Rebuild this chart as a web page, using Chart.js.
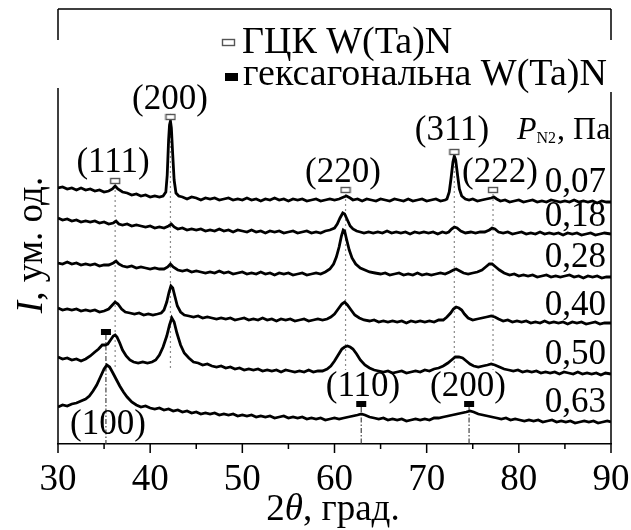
<!DOCTYPE html>
<html>
<head>
<meta charset="utf-8">
<script src="https://cdn.jsdelivr.net/npm/chart.js@4.4.1/dist/chart.umd.min.js"></script>
<style>
  html, body { margin: 0; padding: 0; background: #fff; }
</style>
</head>
<body>
<canvas id="xrd" width="631" height="530"></canvas>
<script>
const FONT = '"Liberation Serif", "Times New Roman", serif';

// nitrogen pressure for each pattern, top to bottom
const pressures = ['0,07', '0,18', '0,28', '0,40', '0,50', '0,63'];

// [2theta, intensity (arb. units, stacked)]
const s007 = [[30,256],[30.5,257],[31,255],[31.5,256],[32,254],[32.5,256],[33,254],[33.5,255],[34,253],[34.5,254],[35,252],[35.5,253],[35.9,255],[36.2,258],[36.5,255],[37,252],[37.5,251],[38,249],[38.5,250],[39,248],[39.5,249],[40,247],[40.5,248],[41,247],[41.4,248],[41.7,252],[41.85,269],[42.0,304],[42.1,319],[42.2,323],[42.3,316],[42.45,289],[42.6,264],[42.8,251],[43.1,248],[43.5,247],[44,245],[44.5,247],[45,246],[45.5,244],[46,246],[46.5,245],[47,246],[47.5,244],[48,245],[48.5,246],[49,244],[49.5,245],[50,244],[50.5,246],[51,244],[51.5,245],[52,243],[52.5,245],[53,244],[53.5,246],[54,244],[54.5,245],[55,243],[55.5,245],[56,244],[56.5,245],[57,243],[57.5,244],[58,245],[58.5,243],[59,244],[59.5,245],[60,244],[60.5,245],[61,247],[61.3,248],[61.7,246],[62,244],[62.5,245],[63,243],[63.5,245],[64,244],[64.5,243],[65,245],[65.5,244],[66,243],[66.5,245],[67,244],[67.5,243],[68,245],[68.5,243],[69,244],[69.5,245],[70,243],[70.5,244],[71,245],[71.5,243],[72,244],[72.2,245],[72.45,252],[72.65,266],[72.85,282],[73.0,288],[73.15,284],[73.35,269],[73.55,255],[73.8,248],[74.2,245],[74.6,244],[75,245],[75.5,243],[76,244],[76.5,245],[77,246],[77.3,247],[77.6,245],[78,243],[78.5,244],[79,242],[79.5,243],[80,244],[80.5,242],[81,243],[81.5,244],[82,242],[82.5,243],[83,242],[83.5,244],[84,243],[84.5,242],[85,243],[85.5,242],[86,244],[86.5,242],[87,243],[87.5,242],[88,243],[88.5,241],[89,243],[89.5,242],[90,242]];

const s018 = [[30,226],[30.5,224],[31,225],[31.5,223],[32,224],[32.5,222],[33,223],[33.5,222],[34,223],[34.5,221],[35,222],[35.5,220],[36,221],[36.3,223],[36.6,220],[37,219],[37.5,220],[38,218],[38.5,219],[39,218],[39.5,217],[40,218],[40.5,216],[41,217],[41.5,216],[42,218],[42.3,220],[42.6,217],[43,215],[43.5,216],[44,214],[44.5,215],[45,214],[45.5,215],[46,213],[46.5,214],[47,213],[47.5,215],[48,213],[48.5,214],[49,212],[49.5,214],[50,213],[50.5,212],[51,214],[51.5,212],[52,213],[52.5,211],[53,213],[53.5,212],[54,213],[54.5,211],[55,212],[55.5,213],[56,211],[56.5,212],[57,213],[57.5,211],[58,212],[58.5,211],[59,213],[59.5,214],[60,216],[60.3,220],[60.6,226],[60.9,231],[61.1,230],[61.4,224],[61.7,218],[62.0,215],[62.4,213],[62.8,212],[63.2,211],[63.7,212],[64.2,211],[64.7,212],[65.2,211],[65.7,213],[66.2,211],[66.7,212],[67.2,211],[67.7,212],[68.2,210],[68.7,212],[69.2,211],[69.7,212],[70.2,211],[70.7,212],[71.2,210],[71.7,212],[72.1,211],[72.4,212],[72.7,215],[73.0,217],[73.3,216],[73.7,213],[74.2,211],[74.8,212],[75.3,211],[75.8,212],[76.3,212],[76.8,214],[77.1,216],[77.4,215],[77.8,212],[78.3,211],[78.8,212],[79.3,210],[79.8,211],[80.3,212],[80.8,210],[81.3,211],[81.8,210],[82.3,212],[82.8,210],[83.3,211],[83.8,210],[84.3,211],[84.8,209],[85.3,211],[85.8,210],[86.3,211],[86.8,209],[87.3,210],[87.8,211],[88.3,209],[88.8,210],[89.3,211],[90,210]];

const s028 = [[30,181],[30.5,180],[31,182],[31.5,180],[32,181],[32.5,179],[33,180],[33.5,179],[34,180],[34.5,178],[35,179],[35.5,179],[36,181],[36.3,183],[36.6,180],[37,178],[37.5,177],[38,178],[38.5,176],[39,177],[39.5,176],[40,175],[40.5,176],[41,175],[41.5,175],[41.9,177],[42.2,180],[42.5,177],[43,174],[43.5,173],[44,174],[44.5,172],[45,173],[45.5,172],[46,171],[46.5,172],[47,171],[47.5,173],[48,171],[48.5,172],[49,170],[49.5,171],[50,172],[50.5,170],[51,171],[51.5,170],[52,172],[52.5,170],[53,171],[53.5,169],[54,171],[54.5,170],[55,171],[55.5,169],[56,170],[56.5,171],[57,169],[57.5,170],[58,171],[58.5,170],[59,172],[59.5,175],[59.9,180],[60.2,187],[60.5,197],[60.75,208],[60.95,214],[61.1,213],[61.3,205],[61.6,194],[61.9,186],[62.3,180],[62.8,176],[63.3,174],[63.8,172],[64.4,171],[65,170],[65.5,171],[66,169],[66.5,170],[67,171],[67.5,169],[68,170],[68.5,169],[69,171],[69.5,169],[70,170],[70.5,169],[71,170],[71.5,171],[72,170],[72.5,172],[72.9,174],[73.2,175],[73.6,173],[74,171],[74.5,170],[75,171],[75.5,172],[76,174],[76.4,177],[76.8,180],[77.1,180],[77.5,177],[77.9,174],[78.4,171],[79,169],[79.5,170],[80,168],[80.5,169],[81,168],[81.5,169],[82,167],[82.5,168],[83,169],[83.5,167],[84,168],[84.5,167],[85,168],[85.5,169],[86,167],[86.5,168],[87,166],[87.5,168],[88,167],[88.5,168],[89,166],[89.5,167],[90,167]];

const s040 = [[30,136],[30.5,134],[31,135],[31.5,134],[32,135],[32.5,133],[33,134],[33.5,133],[34,134],[34.5,132],[35,133],[35.5,135],[35.9,139],[36.2,142],[36.5,140],[36.9,135],[37.3,132],[37.8,131],[38.3,130],[38.8,131],[39.3,129],[39.8,130],[40.3,129],[40.8,130],[41.2,131],[41.5,134],[41.8,142],[42.05,152],[42.25,158],[42.45,156],[42.7,147],[42.95,138],[43.3,132],[43.7,129],[44.2,128],[44.7,127],[45.2,128],[45.7,126],[46.2,127],[46.7,126],[47.2,125],[47.7,126],[48.2,125],[48.7,126],[49.2,124],[49.7,125],[50.2,126],[50.7,124],[51.2,125],[51.7,124],[52.2,126],[52.7,124],[53.2,125],[53.7,123],[54.2,125],[54.7,124],[55.2,125],[55.7,123],[56.2,124],[56.7,125],[57.2,123],[57.7,124],[58.2,125],[58.7,124],[59.2,125],[59.6,127],[60.0,130],[60.4,135],[60.8,140],[61.1,142],[61.4,139],[61.8,134],[62.2,129],[62.7,126],[63.2,124],[63.8,123],[64.3,124],[64.8,122],[65.3,123],[65.8,122],[66.3,123],[66.8,122],[67.3,123],[67.8,121],[68.3,123],[68.8,122],[69.3,123],[69.8,122],[70.3,123],[70.8,122],[71.3,124],[71.8,124],[72.2,127],[72.6,131],[72.9,135],[73.2,137],[73.5,136],[73.8,134],[74.1,130],[74.5,126],[75,124],[75.5,125],[76,126],[76.5,127],[77,128],[77.4,127],[77.8,125],[78.3,123],[78.8,124],[79.3,122],[79.8,123],[80.3,122],[80.8,123],[81.3,121],[81.8,122],[82.3,121],[82.8,123],[83.3,121],[83.8,122],[84.3,121],[84.8,122],[85.3,120],[85.8,122],[86.3,121],[86.8,122],[87.3,120],[87.8,121],[88.3,122],[88.8,120],[89.3,121],[90,121]];

const s050 = [[30,87],[30.5,85],[31,86],[31.5,84],[32,85],[32.5,83],[33,85],[33.5,88],[34,92],[34.4,95],[34.8,99],[35.1,99],[35.4,100],[35.7,104],[36.0,108],[36.2,109],[36.4,107],[36.7,101],[37.0,94],[37.4,88],[37.8,84],[38.2,82],[38.7,81],[39.2,82],[39.7,81],[40.2,82],[40.6,84],[41.0,89],[41.4,97],[41.8,108],[42.1,119],[42.35,126],[42.6,122],[42.9,111],[43.3,99],[43.7,91],[44.2,86],[44.7,82],[45.2,81],[45.7,79],[46.2,80],[46.7,78],[47.2,77],[47.7,78],[48.2,76],[48.7,77],[49.2,75],[49.7,76],[50.2,74],[50.7,75],[51.2,74],[51.7,75],[52.2,73],[52.7,74],[53.2,73],[53.7,74],[54.2,72],[54.7,74],[55.2,73],[55.7,72],[56.2,73],[56.7,72],[57.2,74],[57.7,72],[58.2,73],[58.7,73],[59.2,75],[59.6,78],[60.0,83],[60.4,89],[60.8,95],[61.1,97],[61.4,98],[61.7,97],[62.0,95],[62.4,90],[62.8,84],[63.3,79],[63.8,76],[64.3,74],[64.8,73],[65.3,72],[65.8,73],[66.3,71],[66.8,72],[67.3,73],[67.8,71],[68.3,72],[68.8,73],[69.3,72],[69.8,74],[70.3,73],[70.8,75],[71.3,76],[71.8,78],[72.3,81],[72.7,84],[73.1,87],[73.5,87],[73.9,86],[74.3,83],[74.7,80],[75.1,78],[75.6,77],[76.1,78],[76.6,79],[77.0,80],[77.4,79],[77.9,77],[78.4,75],[78.9,74],[79.4,73],[79.9,74],[80.4,72],[80.9,73],[81.4,72],[81.9,73],[82.4,71],[82.9,72],[83.4,71],[83.9,72],[84.4,70],[84.9,72],[85.4,71],[85.9,70],[86.4,72],[86.9,70],[87.4,71],[87.9,70],[88.4,71],[88.9,69],[89.4,71],[90,70]];

const s063 = [[30,37],[30.5,39],[31,38],[31.5,40],[32,41],[32.5,43],[33,45],[33.4,48],[33.8,53],[34.2,59],[34.6,67],[35.0,75],[35.3,79],[35.6,77],[35.9,72],[36.3,65],[36.7,58],[37.1,52],[37.5,47],[38.0,42],[38.5,39],[39.0,37],[39.5,38],[40,36],[40.5,35],[41,36],[41.5,34],[42,35],[42.5,33],[43,34],[43.5,32],[44,33],[44.5,31],[45,32],[45.5,30],[46,31],[46.5,30],[47,31],[47.5,29],[48,30],[48.5,29],[49,30],[49.5,28],[50,29],[50.5,28],[51,29],[51.5,27],[52,28],[52.5,27],[53,28],[53.5,26],[54,27],[54.5,28],[55,26],[55.5,27],[56,26],[56.5,27],[57,25],[57.5,26],[58,25],[58.5,26],[59,24],[59.5,25],[60,26],[60.5,25],[61,26],[61.5,27],[62,28],[62.5,29],[62.9,30],[63.3,29],[63.8,27],[64.3,26],[64.8,25],[65.3,26],[65.8,24],[66.3,25],[66.8,24],[67.3,25],[67.8,23],[68.3,24],[68.8,25],[69.3,24],[69.8,25],[70.3,24],[70.8,26],[71.3,26],[71.8,27],[72.3,28],[72.8,29],[73.3,30],[73.8,31],[74.3,32],[74.7,33],[75.1,32],[75.6,30],[76.1,29],[76.6,28],[77.1,27],[77.6,26],[78.1,25],[78.6,26],[79.1,24],[79.6,25],[80.1,24],[80.6,23],[81.1,24],[81.6,23],[82.1,24],[82.6,22],[83.1,23],[83.6,24],[84.1,22],[84.6,23],[85.1,22],[85.6,23],[86.1,21],[86.6,22],[87.1,23],[87.6,22],[88.1,23],[88.6,21],[89.1,22],[89.6,23],[90,22]];

// reflections of the cubic (ГЦК) and hexagonal phases
const fccPeaks = [36.2, 42.2, 61.2, 73.0, 77.2];
const fccMarkY = [263, 327, 254, 292, 254];
const fccLabels = ['(111)', '(200)', '(220)', '(311)', '(222)'];
const hexPeaks = [35.2, 62.9, 74.6];
const hexMarkY = [112, 40, 40];
const hexLabels = ['(100)', '(110)', '(200)'];
const guideBottom = 74;

const xTicks = [30, 40, 50, 60, 70, 80, 90];

function boxMark(filled, w, h) {
  const c = document.createElement('canvas');
  c.width = w + 2; c.height = h + 2;
  const g = c.getContext('2d');
  if (filled) {
    g.fillStyle = '#000';
    g.fillRect(1, 1, w, h);
  } else {
    g.fillStyle = '#fff';
    g.fillRect(1, 1, w, h);
    g.strokeStyle = '#555';
    g.lineWidth = 1.4;
    g.strokeRect(1.5, 1.5, w - 1, h - 1);
  }
  return c;
}

const series = [s007, s018, s028, s040, s050, s063];
const datasets = series.map((s, i) => ({
  label: pressures[i],
  data: s,
  borderColor: '#000',
  borderWidth: 2.8,
  pointRadius: 0,
  tension: 0,
  order: 2
}));

fccPeaks.forEach((p, i) => {
  datasets.push({
    data: [[p, fccMarkY[i] - 4], [p, guideBottom]],
    borderColor: '#8a8a8a', borderWidth: 1.2, borderDash: [2, 3],
    pointRadius: 0, order: 3
  });
});
hexPeaks.forEach((p, i) => {
  datasets.push({
    data: [[p, hexMarkY[i] - 3], [p, 0]],
    borderColor: '#444', borderWidth: 1.2, borderDash: [5, 2, 1.5, 2],
    pointRadius: 0, order: 3
  });
});
datasets.push({
  data: fccPeaks.map((p, i) => [p, fccMarkY[i]]),
  showLine: false, pointStyle: boxMark(false, 10, 6), pointRadius: 5, order: 1
});
datasets.push({
  data: hexPeaks.map((p, i) => [p, hexMarkY[i]]),
  showLine: false, pointStyle: boxMark(true, 10, 6), pointRadius: 5, order: 1
});

function txt(ctx, s, x, y, size, align, style) {
  ctx.font = (style || '') + ' ' + size + 'px ' + FONT;
  ctx.textAlign = align || 'center';
  ctx.textBaseline = 'middle';
  ctx.fillText(s, x, y);
}

const decor = {
  id: 'decor',
  afterDraw(chart) {
    const ctx = chart.ctx;
    const a = chart.chartArea;
    const xs = chart.scales.x;
    ctx.save();
    ctx.strokeStyle = '#000';
    ctx.fillStyle = '#000';
    ctx.lineWidth = 1.5;
    // frame (broken where the legend sits)
    ctx.beginPath();
    ctx.moveTo(a.left, a.top); ctx.lineTo(a.right, a.top);
    ctx.moveTo(a.left, a.top); ctx.lineTo(a.left, 40);
    ctx.moveTo(a.left, 88); ctx.lineTo(a.left, a.bottom);
    ctx.moveTo(a.right, a.top); ctx.lineTo(a.right, 40);
    ctx.moveTo(a.right, 92); ctx.lineTo(a.right, a.bottom);
    ctx.stroke();
    // ticks
    ctx.beginPath();
    for (let v = 30; v <= 90; v += 5) {
      const px = xs.getPixelForValue(v);
      ctx.moveTo(px, a.bottom);
      ctx.lineTo(px, a.bottom + (v % 10 === 0 ? 9 : 5));
    }
    ctx.stroke();

    // peak indices
    const fccPos = [[113, 163], [170, 100], [343, 173], [452, 131], [500, 173]];
    fccLabels.forEach((s, i) => txt(ctx, s, fccPos[i][0], fccPos[i][1], 35));
    const hexPos = [[108, 425], [363, 387], [468, 387]];
    hexLabels.forEach((s, i) => txt(ctx, s, hexPos[i][0], hexPos[i][1], 35));

    // pressure labels
    const pY = [183, 217, 258, 306, 355, 403];
    pressures.forEach((s, i) => txt(ctx, s, 606, pY[i], 35, 'right'));

    // P_N2, Па
    txt(ctx, 'P', 517, 131, 32, 'left', 'italic');
    ctx.font = 'italic 32px ' + FONT;
    let x = 517 + ctx.measureText('P').width;
    txt(ctx, 'N2', x, 139, 16, 'left');
    ctx.font = '16px ' + FONT;
    x += ctx.measureText('N2').width + 1;
    txt(ctx, ', Па', x, 131, 32, 'left');

    // legend
    ctx.drawImage(boxMark(false, 13, 7), 221, 38);
    txt(ctx, 'ГЦК W(Ta)N', 242, 43, 38, 'left');
    ctx.drawImage(boxMark(true, 13, 8), 224, 72);
    txt(ctx, 'гексагональна W(Ta)N', 243, 75, 38, 'left');

    // x title: 2θ, град.
    ctx.font = '37px ' + FONT;
    const w1 = ctx.measureText('2').width;
    const w3 = ctx.measureText(', град.').width;
    ctx.font = 'italic 37px ' + FONT;
    const w2 = ctx.measureText('θ').width;
    let tx = 333 - (w1 + w2 + w3) / 2;
    txt(ctx, '2', tx, 510, 37, 'left'); tx += w1;
    txt(ctx, 'θ', tx, 510, 37, 'left', 'italic'); tx += w2;
    txt(ctx, ', град.', tx, 510, 37, 'left');

    // y title: I, ум. од.
    ctx.translate(32, 245);
    ctx.rotate(-Math.PI / 2);
    ctx.font = 'italic 37px ' + FONT;
    const wi = ctx.measureText('I').width;
    ctx.font = '37px ' + FONT;
    const wr = ctx.measureText(', ум. од.').width;
    let ty = -(wi + wr) / 2;
    txt(ctx, 'I', ty, 0, 37, 'left', 'italic'); ty += wi;
    txt(ctx, ', ум. од.', ty, 0, 37, 'left');
    ctx.restore();
  }
};

new Chart(document.getElementById('xrd'), {
  type: 'line',
  data: { datasets },
  options: {
    responsive: false,
    animation: false,
    layout: { padding: { left: 58, right: 20, top: 9, bottom: 0 } },
    scales: {
      x: {
        type: 'linear', min: 30, max: 90,
        afterBuildTicks: s => { s.ticks = xTicks.map(v => ({ value: v })); },
        ticks: { color: '#000', font: { family: FONT, size: 37 }, padding: 14, maxRotation: 0, autoSkip: false },
        grid: { display: true, drawOnChartArea: false, drawTicks: false },
        border: { display: true, color: '#000', width: 1.5 },
        afterFit: s => { s.height = 86; s.paddingLeft = 0; s.paddingRight = 0; }
      },
      y: { type: 'linear', min: 0, max: 435, display: false }
    },
    plugins: { legend: { display: false }, tooltip: { enabled: false } }
  },
  plugins: [decor]
});
</script>
</body>
</html>
